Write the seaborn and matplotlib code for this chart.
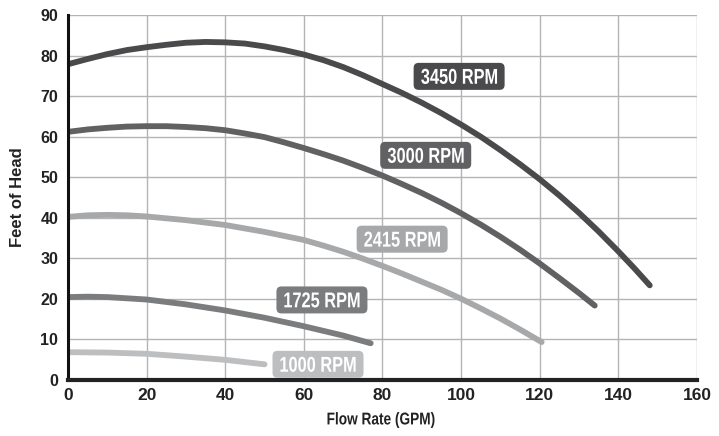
import matplotlib
matplotlib.use("Agg")
import matplotlib.pyplot as plt
import seaborn as sns
import pandas as pd
from matplotlib.textpath import TextPath
from matplotlib.font_manager import FontProperties
from matplotlib.patches import PathPatch, FancyBboxPatch
from matplotlib.transforms import Affine2D, IdentityTransform

# pump curves (flow in GPM, head in feet)
flow_3450 = [0, 5, 10, 15, 20, 25, 30, 35, 40, 45, 50, 55, 60, 65, 70, 75, 80, 85, 90, 95,
             100, 105, 110, 115, 120, 125, 130, 135, 140, 144, 148]
head_3450 = [77.9, 79.2, 80.4, 81.4, 82.1, 82.7, 83.2, 83.4, 83.3, 83.0, 82.3, 81.4, 80.3,
             78.9, 77.2, 75.2, 73.0, 70.8, 68.4, 65.8, 63.0, 60.0, 56.7, 53.2, 49.5,
             45.5, 41.2, 36.6, 31.7, 27.6, 23.3]

flow_3000 = [0, 5, 10, 15, 20, 25, 30, 35, 40, 45, 50, 55, 60, 65, 70, 75, 80, 85, 90, 95,
             100, 105, 110, 115, 120, 125, 130, 134]
head_3000 = [61.2, 61.8, 62.2, 62.5, 62.6, 62.6, 62.4, 62.1, 61.6, 60.8, 59.9, 58.6, 57.2,
             55.7, 54.1, 52.3, 50.4, 48.3, 46.1, 43.7, 41.1, 38.3, 35.3, 32.1, 28.7,
             25.1, 21.4, 18.3]

flow_2415 = [0, 5, 10, 15, 20, 30, 40, 50, 60, 65, 70, 75, 80, 85, 90, 95, 100, 105, 110,
             115, 120.5]
head_2415 = [40.2, 40.6, 40.7, 40.6, 40.3, 39.4, 38.2, 36.5, 34.5, 33.1, 31.6, 29.9, 28.1,
             26.2, 24.2, 22.2, 20.0, 17.6, 15.1, 12.4, 9.3]

flow_1725 = [0, 5, 10, 20, 30, 40, 50, 60, 70, 77]
head_1725 = [20.4, 20.5, 20.4, 19.8, 18.6, 17.1, 15.3, 13.2, 10.9, 9.0]

flow_1000 = [0, 10, 20, 30, 40, 50]
head_1000 = [6.8, 6.7, 6.4, 5.7, 4.9, 3.8]

rpm_labels = ["3450 RPM", "3000 RPM", "2415 RPM", "1725 RPM", "1000 RPM"]
label_x = [99.5, 91, 85, 64.6, 63.6]
label_y = [74.9, 55.4, 34.7, 19.7, 3.8]
colors = ["#4a4a4c", "#616163", "#a7a8aa", "#7b7c7e", "#bdbec0"]

x_ticks = [0, 20, 40, 60, 80, 100, 120, 140, 160]
y_ticks = [0, 10, 20, 30, 40, 50, 60, 70, 80, 90]

curves = pd.concat([
    pd.DataFrame({"flow": f, "head": h, "rpm": r})
    for f, h, r in [
        (flow_3450, head_3450, rpm_labels[0]),
        (flow_3000, head_3000, rpm_labels[1]),
        (flow_2415, head_2415, rpm_labels[2]),
        (flow_1725, head_1725, rpm_labels[3]),
        (flow_1000, head_1000, rpm_labels[4]),
    ]
])

sns.set_style("white")
plt.rcParams["font.family"] = ["Liberation Sans", "DejaVu Sans"]
DPI = 100
bold = FontProperties(family="Liberation Sans", weight="bold")

fig = plt.figure(figsize=(7.19, 4.36), dpi=DPI)
ax = fig.add_axes([0.0946, 0.1291, 0.8747, 0.8360])

sns.lineplot(data=curves, x="flow", y="head", hue="rpm", hue_order=rpm_labels,
             palette=colors, linewidth=4.2, legend=False, ax=ax,
             sort=False, estimator=None)
for line in ax.get_lines():
    line.set_solid_capstyle("round")
    line.set_solid_joinstyle("round")

ax.set_xlim(0, 160)
ax.set_ylim(0, 90)
ax.set_xticks(x_ticks)
ax.set_yticks(y_ticks)
ax.grid(True, color="#b4b4b4", linewidth=1.0)
ax.set_axisbelow(True)


# no condensed font installed, so squeeze a bold text path horizontally
def narrow_text(px, py, s, size, sx, color, box=None):
    tp = TextPath((0, 0), s, size=size, prop=bold)
    bb = tp.get_extents()
    k = DPI / 72
    tr = (Affine2D().translate(-(bb.x0 + bb.x1) / 2, -(bb.y0 + bb.y1) / 2)
          .scale(sx * k, k).translate(px, py))
    if box is not None:
        w, h = box
        fig.add_artist(FancyBboxPatch((px - w / 2, py - h / 2), w, h,
                                      boxstyle="round,pad=0,rounding_size=5",
                                      fc=color, ec="none",
                                      transform=IdentityTransform(), zorder=4))
        color = "white"
    fig.add_artist(PathPatch(tp, fc=color, ec="none", transform=tr, zorder=5))


for txt, lx, ly, c in zip(rpm_labels, label_x, label_y, colors):
    px, py = ax.transData.transform((lx, ly))
    narrow_text(px, py, txt, 15.5, 0.76, c, box=(91, 27))

for side in ["top", "right"]:
    ax.spines[side].set_visible(False)
ax.spines["left"].set_color("#111111")
ax.spines["left"].set_linewidth(2.2)
ax.spines["bottom"].set_color("#222222")
ax.spines["bottom"].set_linewidth(3)

ax.tick_params(axis="both", length=0, colors="#222222")
ax.tick_params(axis="x", pad=6)
ax.tick_params(axis="y", pad=7)
for lab in ax.get_xticklabels():
    lab.set_fontweight("bold")
    lab.set_fontsize(12.5)
for lab in ax.get_yticklabels():
    lab.set_fontweight("bold")
    lab.set_fontsize(11.5)

ax.set_xlabel("")
ax.set_ylabel("Feet of Head", fontsize=12, fontweight="bold", color="#222222",
              labelpad=11)
# x axis title in the squeezed bold face
narrow_text(381, 436 - 420, "Flow Rate (GPM)", 12.3, 0.8, "#222222")

plt.savefig("out.png", dpi=DPI)
